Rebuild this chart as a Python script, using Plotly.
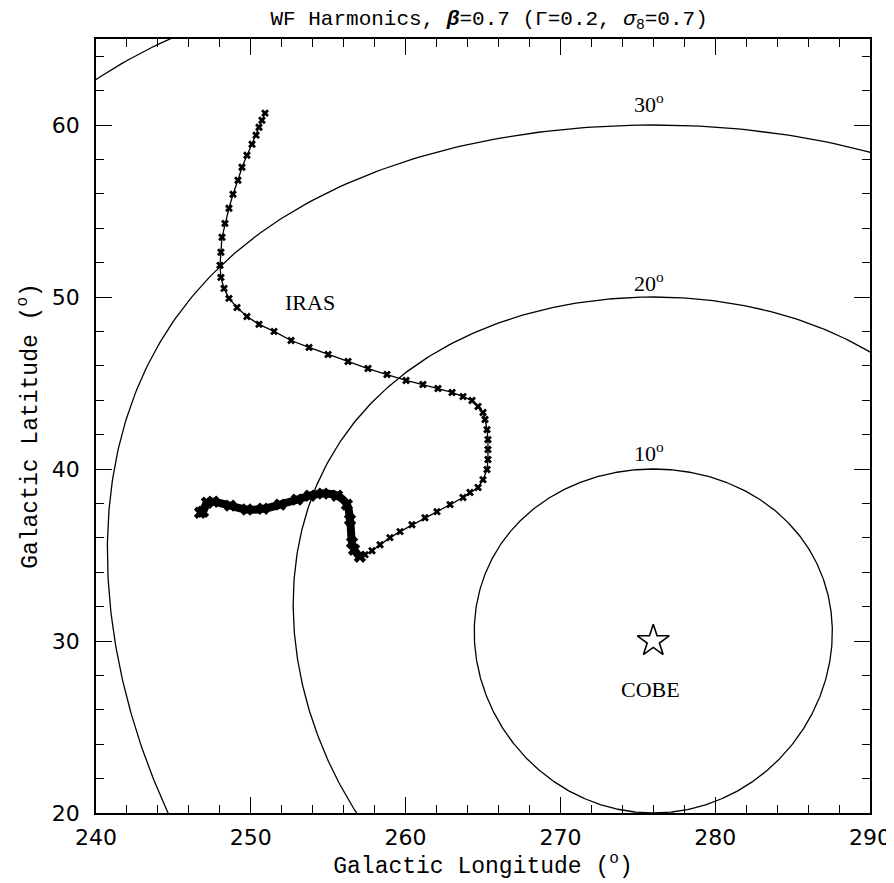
import numpy as np
import plotly.graph_objects as go

# ---- data ----
cobe_lon = [276.0]
cobe_lat = [30.0]
circle_radii_deg = [10, 20, 30, 40]
circle_labels = ["10<sup>o</sup>", "20<sup>o</sup>", "30<sup>o</sup>"]

# IRAS dipole track (sparse part)
iras_lon = [250.92, 250.72, 250.53, 250.34, 250.08, 249.75, 249.43, 249.17, 248.85, 248.59,
            248.33, 248.14, 248.07, 248.01, 248.07, 248.27, 248.59, 249.11, 249.75, 250.53,
            251.50, 252.60, 253.76, 254.99, 256.28, 257.57, 258.80, 260.03, 261.12, 262.09,
            263.00, 263.71, 264.29, 264.68, 265.00, 265.13, 265.26, 265.32, 265.32, 265.32,
            265.26, 265.00, 264.68, 264.16, 263.71, 262.87, 262.03, 261.25, 260.41, 259.64,
            258.99, 258.35, 257.83, 257.38, 257.05]
iras_lat = [60.69, 60.28, 59.87, 59.41, 58.88, 58.24, 57.54, 56.79, 55.97, 55.16,
            54.28, 53.47, 52.60, 51.84, 51.14, 50.50, 49.92, 49.39, 48.87, 48.41,
            48.00, 47.47, 47.07, 46.66, 46.25, 45.84, 45.49, 45.15, 44.91, 44.68,
            44.45, 44.21, 43.98, 43.63, 43.28, 42.88, 42.29, 41.71, 41.13, 40.55,
            39.97, 39.38, 38.92, 38.63, 38.34, 37.93, 37.52, 37.17, 36.76, 36.36,
            36.01, 35.60, 35.25, 35.02, 34.90]
# IRAS dense tail
tail_lon = [257.05, 256.67, 256.54, 256.41, 256.21, 255.57, 254.66, 253.82, 252.98, 251.89,
            250.79, 249.75, 248.66, 247.56, 247.17, 246.91, 246.72]
tail_lat = [34.90, 35.31, 35.72, 37.05, 37.93, 38.45, 38.57, 38.45, 38.22, 37.93,
            37.69, 37.64, 37.87, 38.10, 38.04, 37.52, 37.46]

# ---- angular-distance circles around COBE direction ----
def sky_circle(l0, b0, r, n=721):
    l0r, b0r, rr = np.radians(l0), np.radians(b0), np.radians(r)
    th = np.linspace(0, 2 * np.pi, n)
    sb = np.sin(b0r) * np.cos(rr) + np.cos(b0r) * np.sin(rr) * np.cos(th)
    b = np.arcsin(sb)
    dl = np.arctan2(np.sin(th) * np.sin(rr) * np.cos(b0r), np.cos(rr) - np.sin(b0r) * sb)
    return np.degrees(l0r + dl), np.degrees(b)

fig = go.Figure()
for r in circle_radii_deg:
    cl, cb = sky_circle(cobe_lon[0], cobe_lat[0], r)
    fig.add_trace(go.Scatter(x=cl, y=cb, mode="lines",
                             line=dict(color="black", width=1.3), hoverinfo="skip"))

fig.add_trace(go.Scatter(x=iras_lon, y=iras_lat, mode="lines+markers",
                         line=dict(color="black", width=1.3),
                         marker=dict(symbol="x", size=7, color="black")))
fig.add_trace(go.Scatter(x=tail_lon, y=tail_lat, mode="lines+markers",
                         line=dict(color="black", width=8, shape="spline"),
                         marker=dict(symbol="x", size=11, color="black")))
fig.add_trace(go.Scatter(x=cobe_lon, y=cobe_lat, mode="markers",
                         marker=dict(symbol="star-open", size=24, color="black",
                                     line=dict(color="black", width=1.6))))

lab_font = dict(family="Liberation Serif", size=22, color="black")
for txt, (lx, ly) in zip(circle_labels, [(275.7, 41.0), (275.7, 50.9), (275.7, 61.3)]):
    fig.add_annotation(x=lx, y=ly, text=txt, showarrow=False, font=lab_font)
fig.add_annotation(x=253.8, y=49.7, text="IRAS", showarrow=False, font=lab_font)
fig.add_annotation(x=275.8, y=27.2, text="COBE", showarrow=False, font=lab_font)

axis_common = dict(showgrid=False, zeroline=False, showline=True, linecolor="black",
                   linewidth=1.6, mirror="allticks", ticks="inside", ticklen=16,
                   tickwidth=1.3, tickcolor="black", automargin=False,
                   tickfont=dict(family="DejaVu Sans", size=22, color="black"),
                   minor=dict(ticks="inside", ticklen=8, tickwidth=1.2, tickcolor="black",
                              dtick=2, showgrid=False))

# the page body adds an 8px offset, so the figure is 8px smaller and shifted
fig.update_layout(
    width=886, height=875,
    margin=dict(l=88, r=24, t=31, b=70),
    paper_bgcolor="white", plot_bgcolor="white",
    showlegend=False,
    title=dict(text="WF Harmonics, <b><i>β</i></b>=0.7 (Γ=0.2, <i>σ</i><sub>8</sub>=0.7)",
               x=0.543, xanchor="center", y=0.989, yanchor="middle",
               font=dict(family="Liberation Mono", size=21, color="black")),
    xaxis=dict(range=[240, 290], dtick=10, tick0=240, ticklabelstandoff=4,
               title=dict(text="Galactic Longitude (<sup>o</sup>)", standoff=2,
                          font=dict(family="Liberation Mono", size=23, color="black")),
               **axis_common),
    yaxis=dict(range=[20, 65], dtick=10, tick0=20, ticklabelstandoff=10,
               title=dict(text="Galactic Latitude (<sup>o</sup>)", standoff=8,
                          font=dict(family="Liberation Mono", size=23, color="black")),
               **axis_common),
)

fig.write_html("out.html")
